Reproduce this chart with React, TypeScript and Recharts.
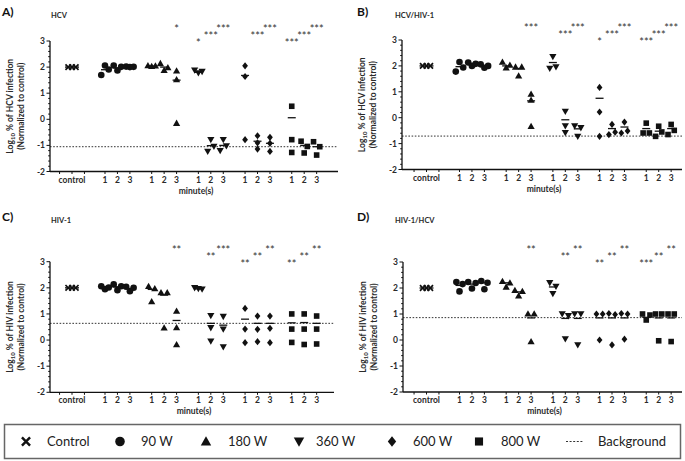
import React from 'react';
import { ScatterChart, Scatter, XAxis, YAxis, ReferenceLine } from 'recharts';

// log10 % infection, normalized to control; [power][minute][replicate]
const POWERS = ['90 W', '180 W', '360 W', '600 W', '800 W'];
const MINUTES = ['1', '2', '3'];
const CONTROL = [2, 2, 2];

const A_POINTS = [
  [[1.70, 2.06, 1.91], [2.06, 1.87, 2.01], [2.02, 2.0, 2.01]],
  [[2.06, 2.03, 2.05], [2.14, 1.88, 1.98], [1.86, -0.15, 1.52]],
  [[1.88, 1.78, 1.83], [-1.23, -0.78, -1.04], [-1.2, -0.78, -1.02]],
  [[2.05, -0.78, 1.64], [-1.14, -0.63, -0.9], [-0.69, -1.23, -0.92]],
  [[0.5, -0.78, -1.27], [-1.29, -0.84, -1.04], [-0.86, -1.37, -1.05]],
];
const A_MEANS = [[1.9, 1.97, 2.0], [2.04, 2.0, 1.5], [1.8, -1.01, -1.0], [1.68, -0.84, -0.92], [0.06, -1.0, -1.05]];
const A_STARS = [['', '', ''], ['', '', '*'], ['*', '***', '***'], ['', '***', '***'], ['***', '***', '***']];
const A_BG = -1.05;

const B_POINTS = [
  [[1.78, 2.15, 1.94], [2.13, 2.0, 2.08], [2.06, 1.93, 2.0]],
  [[2.15, 1.93, 2.03], [1.96, 1.62, 1.96], [0.91, -0.33, 0.68]],
  [[1.9, 2.36, 1.96], [-0.58, 0.24, -0.32], [-0.32, -0.72, -0.39]],
  [[1.17, 0.22, -0.72], [-0.65, -0.26, -0.56], [-0.59, -0.17, -0.51]],
  [[-0.59, -0.21, -0.59], [-0.72, -0.33, -0.55], [-0.65, -0.26, -0.49]],
];
const B_MEANS = [[1.97, 2.05, 2.0], [2.0, 1.9, 0.65], [2.13, -0.08, -0.43], [0.75, -0.42, -0.36], [-0.42, -0.52, -0.42]];
const B_STARS = [['', '', ''], ['', '', '***'], ['', '***', '***'], ['*', '***', '***'], ['***', '***', '***']];
const B_BG = -0.71;

const C_POINTS = [
  [[2.06, 1.95, 2.01], [2.13, 1.91, 2.06], [2.04, 1.87, 2.0]],
  [[2.06, 1.47, 1.97], [1.82, 0.47, 1.82], [1.11, 0.48, -0.17]],
  [[2.0, 1.97, 1.95], [0.93, 0.47, -0.04], [0.9, 0.42, -0.26]],
  [[1.21, 0.42, -0.1], [0.92, 0.41, -0.06], [0.92, 0.45, -0.1]],
  [[1.0, 0.42, -0.09], [1.0, 0.42, -0.17], [0.92, 0.42, -0.15]],
];
const C_MEANS = [[2.0, 2.04, 1.98], [1.94, 1.72, 0.75], [1.96, 0.64, 0.57], [0.8, 0.64, 0.64], [0.66, 0.67, 0.64]];
const C_STARS = [['', '', ''], ['', '', '**'], ['', '**', '***'], ['**', '**', '**'], ['**', '**', '**']];
const C_BG = 0.64;

const D_POINTS = [
  [[2.23, 1.87, 2.15], [2.23, 1.98, 2.19], [1.95, 2.27, 2.2]],
  [[2.26, 2.04, 2.2], [1.91, 1.7, 1.87], [1.01, -0.06, 1.01]],
  [[1.78, 2.2, 2.06], [1.0, 0.04, 0.93], [1.0, -0.19, 1.0]],
  [[1.0, 0.0, 1.0], [1.02, -0.19, 0.98], [1.02, 0.03, 1.0]],
  [[1.0, 0.77, 0.96], [1.0, -0.03, 1.0], [1.0, -0.06, 1.0]],
];
const D_MEANS = [[2.1, 2.15, 2.2], [2.2, 1.85, 0.85], [2.04, 0.83, 0.83], [0.85, 0.85, 0.85], [0.87, 0.85, 0.85]];
const D_STARS = [['', '', ''], ['', '', '**'], ['', '**', '**'], ['**', '**', '**'], ['***', '**', '**']];
const D_BG = 0.86;

const W = 685;
const H = 461;
const Y_MAX = 3.8;
const U = 12.45; // px per slot
const GAP0 = 2.65;
const GROUP = 3.75;
const FONT = 'Lato, "Open Sans", sans-serif';
const INK = '#111';
const TXT = '#2a2a2a';

type Kind = 'x' | 'circle' | 'triangle' | 'down' | 'diamond' | 'square';
const KINDS: Kind[] = ['circle', 'triangle', 'down', 'diamond', 'square'];

function Marker({ kind, cx, cy, s = 1 }: { kind: Kind; cx: number; cy: number; s?: number }) {
  if (cx == null || cy == null) return null;
  switch (kind) {
    case 'x': {
      const d = 2.8 * s;
      return <path d={`M${cx - d},${cy - d}L${cx + d},${cy + d}M${cx - d},${cy + d}L${cx + d},${cy - d}`} stroke={INK} strokeWidth={1.7 * s} />;
    }
    case 'circle':
      return <circle cx={cx} cy={cy} r={3.3 * s} fill={INK} />;
    case 'triangle': {
      const h = 3.6 * s;
      return <path d={`M${cx},${cy - h}L${cx + h},${cy + h * 0.75}L${cx - h},${cy + h * 0.75}Z`} fill={INK} />;
    }
    case 'down': {
      const h = 3.6 * s;
      return <path d={`M${cx},${cy + h}L${cx + h},${cy - h * 0.75}L${cx - h},${cy - h * 0.75}Z`} fill={INK} />;
    }
    case 'diamond': {
      const h = 3.6 * s;
      return <path d={`M${cx},${cy - h}L${cx + h * 0.8},${cy}L${cx},${cy + h}L${cx - h * 0.8},${cy}Z`} fill={INK} />;
    }
    default: {
      const h = 2.8 * s;
      return <rect x={cx - h} y={cy - h} width={2 * h} height={2 * h} fill={INK} />;
    }
  }
}

// horizontal offsets for replicates that would overlap (like a scatter dot plot)
function spread(vals: number[]): number[] {
  const order = vals.map((_, i) => i).sort((a, b) => vals[a] - vals[b]);
  const offs = vals.map(() => 0);
  const clusters: number[][] = [];
  order.forEach((i) => {
    const last = clusters[clusters.length - 1];
    if (last && vals[i] - vals[last[last.length - 1]] < 0.22) last.push(i);
    else clusters.push([i]);
  });
  clusters.forEach((c) => {
    if (c.length < 2) return;
    const idx = [...c].sort((a, b) => a - b);
    const step = idx.length === 2 ? 0.5 : 0.3;
    idx.forEach((i, k) => (offs[i] = (k - (idx.length - 1) / 2) * step));
  });
  return offs;
}

const pos = (g: number, m: number) => GAP0 + g * GROUP + m;

type Cfg = {
  points: number[][][];
  means: number[][];
  stars: string[][];
  bg: number;
  axisX: number;
  axisRight: number;
  ctrlX: number;
  y3: number;
  yM2: number;
};

const Y_TICKS = Array.from({ length: 26 }, (_, i) => Math.round((-2 + i * 0.2) * 10) / 10);

function Panel({ cfg }: { cfg: Cfg }) {
  const unit = (cfg.yM2 - cfg.y3) / 5;
  const top = cfg.yM2 - (Y_MAX + 2) * unit;
  const margin = { top, left: cfg.axisX - 1, right: W - cfg.axisRight, bottom: H - cfg.yM2 - 1 };
  const xDomain = [(cfg.axisX - cfg.ctrlX) / U, (cfg.axisRight - cfg.ctrlX) / U];

  const ctrlOff = spread(CONTROL);
  const ctrlData = CONTROL.map((v, i) => ({ x: ctrlOff[i], y: v }));
  const groups = cfg.points.map((byMin, g) =>
    byMin.flatMap((vals, m) => {
      const off = spread(vals);
      return vals.map((v, r) => ({ x: pos(g, m) + off[r], y: v }));
    })
  );
  const means = [
    { x: 0, y: 2, w: 14 },
    ...cfg.means.flatMap((row, g) => row.map((v, m) => ({ x: pos(g, m), y: v, w: 8 }))),
  ];
  const stars = cfg.stars.flatMap((row, g) =>
    row.map((label, m) => ({ x: pos(g, m), y: 3 + m * 0.27, label })).filter((d) => d.label)
  );

  const labels: Record<string, string> = { '0.00': 'control' };
  POWERS.forEach((_, g) => MINUTES.forEach((mn, m) => (labels[pos(g, m).toFixed(2)] = mn)));
  const xTicks = [-1, 0, 1, ...POWERS.flatMap((_, g) => MINUTES.map((__, m) => pos(g, m)))];

  const XTick = (p: any) => {
    const v = Number(p.payload.value);
    const lab = labels[v.toFixed(2)];
    return (
      <g>
        <line x1={p.x} x2={p.x} y1={p.y} y2={p.y + 2.5} stroke={INK} strokeWidth={1} />
        {lab && (
          <text x={p.x} y={p.y + 11} textAnchor="middle" fontFamily={FONT} fontWeight={700} fontSize={8.5} fill={TXT}>
            {lab}
          </text>
        )}
      </g>
    );
  };
  const YTick = (p: any) => {
    const v = Number(p.payload.value);
    const major = Math.abs(v - Math.round(v)) < 1e-6;
    return (
      <g>
        <line x1={p.x - (major ? 3.5 : 1.8)} x2={p.x} y1={p.y} y2={p.y} stroke={INK} strokeWidth={1} />
        {major && (
          <text x={p.x - 5} y={p.y + 3} textAnchor="end" fontFamily={FONT} fontWeight={700} fontSize={8.5} fill={TXT}>
            {v}
          </text>
        )}
      </g>
    );
  };

  return (
    <div style={{ position: 'absolute', left: 0, top: 0 }}>
      <ScatterChart width={W} height={H} margin={margin}>
        <XAxis
          type="number"
          dataKey="x"
          domain={xDomain}
          ticks={xTicks}
          interval={0}
          tick={XTick}
          tickLine={false}
          tickSize={0}
          tickMargin={0}
          height={1}
          axisLine={{ stroke: INK, strokeWidth: 1.3 }}
        />
        <YAxis
          type="number"
          dataKey="y"
          domain={[-2, Y_MAX]}
          ticks={Y_TICKS}
          interval={0}
          tick={YTick}
          tickLine={false}
          tickSize={0}
          tickMargin={0}
          width={1}
          axisLine={false}
        />
        <ReferenceLine y={cfg.bg} stroke="#333" strokeDasharray="1.6 1.6" strokeWidth={1} />
        <ReferenceLine
          segment={[{ x: xDomain[0], y: -2 }, { x: xDomain[0], y: 3 }]}
          stroke={INK}
          strokeWidth={1.3}
        />
        <Scatter
          data={ctrlData}
          isAnimationActive={false}
          shape={(p: any) => <Marker kind="x" cx={p.cx} cy={p.cy} />}
        />
        {groups.map((d, g) => (
          <Scatter
            key={g}
            data={d}
            isAnimationActive={false}
            shape={(p: any) => <Marker kind={KINDS[g]} cx={p.cx} cy={p.cy} />}
          />
        ))}
        <Scatter
          data={means}
          isAnimationActive={false}
          shape={(p: any) => {
            const w = (p.payload && p.payload.w) || 8;
            return <line x1={p.cx - w / 2} x2={p.cx + w / 2} y1={p.cy} y2={p.cy} stroke={INK} strokeWidth={1.3} />;
          }}
        />
        <Scatter
          data={stars}
          isAnimationActive={false}
          shape={(p: any) => (
            <text x={p.cx} y={p.cy + 6} textAnchor="middle" fontFamily={FONT} fontSize={11} fill="#333">
              {p.payload ? p.payload.label : ''}
            </text>
          )}
        />
      </ScatterChart>
    </div>
  );
}

const PANELS: { cfg: Cfg; letter: string; title: string; virus: string; lx: number; tx: number; ty: number }[] = [
  { letter: 'A)', title: 'HCV', virus: 'HCV', lx: 2, tx: 51, ty: 0,
    cfg: { points: A_POINTS, means: A_MEANS, stars: A_STARS, bg: A_BG, axisX: 50, axisRight: 338, ctrlX: 72, y3: 41, yM2: 171.5 } },
  { letter: 'B)', title: 'HCV/HIV-1', virus: 'HCV', lx: 357, tx: 395, ty: 0,
    cfg: { points: B_POINTS, means: B_MEANS, stars: B_STARS, bg: B_BG, axisX: 402, axisRight: 682, ctrlX: 426.5, y3: 40, yM2: 169.5 } },
  { letter: 'C)', title: 'HIV-1', virus: 'HIV', lx: 2, tx: 51, ty: 205,
    cfg: { points: C_POINTS, means: C_MEANS, stars: C_STARS, bg: C_BG, axisX: 50, axisRight: 334, ctrlX: 72, y3: 261.7, yM2: 392.3 } },
  { letter: 'D)', title: 'HIV-1/HCV', virus: 'HIV', lx: 357, tx: 395, ty: 205,
    cfg: { points: D_POINTS, means: D_MEANS, stars: D_STARS, bg: D_BG, axisX: 403, axisRight: 682, ctrlX: 426.5, y3: 262, yM2: 392 } },
];

const LEGEND: { kind: Kind | 'line'; label: string; mx: number; tx: number }[] = [
  { kind: 'x', label: 'Control', mx: 26, tx: 47 },
  { kind: 'circle', label: '90 W', mx: 120, tx: 141 },
  { kind: 'triangle', label: '180 W', mx: 206, tx: 228 },
  { kind: 'down', label: '360 W', mx: 299, tx: 316 },
  { kind: 'diamond', label: '600 W', mx: 392, tx: 413 },
  { kind: 'square', label: '800 W', mx: 479, tx: 501 },
  { kind: 'line', label: 'Background', mx: 574, tx: 598 },
];

export default function App() {
  return (
    <div style={{ position: 'absolute', left: 0, top: 0, width: W, height: H, background: '#fff', overflow: 'hidden' }}>
      {PANELS.map((p, i) => (
        <Panel key={i} cfg={p.cfg} />
      ))}
      <svg width={W} height={H} style={{ position: 'absolute', left: 0, top: 0, pointerEvents: 'none' }}>
        {PANELS.map((p, i) => {
          const c = p.cfg;
          const midY = (c.y3 + c.yM2) / 2;
          const l1 = c.axisX - 37;
          const midX = (c.axisX + c.axisRight) / 2 + 2;
          return (
            <g key={i} fontFamily={FONT} fill={TXT}>
              <text x={p.lx} y={p.ty + 16} fontSize={12} fontWeight={700} fill="#111">{p.letter}</text>
              <text x={p.tx} y={p.ty + 18} fontSize={7.5} fontWeight={700}>{p.title}</text>
              <text transform={`translate(${l1},${midY}) rotate(-90)`} textAnchor="middle" fontSize={8.5} fontWeight={700}>
                Log<tspan fontSize={6} dy={2}>10</tspan>
                <tspan dy={-2}>{` % of ${p.virus} infection`}</tspan>
              </text>
              <text transform={`translate(${l1 + 10.5},${midY}) rotate(-90)`} textAnchor="middle" fontSize={8.5} fontWeight={700}>
                (Normalized to control)
              </text>
              <text x={midX} y={c.yM2 + 22} textAnchor="middle" fontSize={8.5} fontWeight={700}>minute(s)</text>
            </g>
          );
        })}
        <rect x={4.5} y={424.5} width={676} height={34} fill="none" stroke="#666" strokeWidth={1.5} />
        {LEGEND.map((it) => (
          <g key={it.label}>
            {it.kind === 'line' ? (
              <line x1={it.mx - 8} x2={it.mx + 9} y1={441.5} y2={441.5} stroke="#333" strokeWidth={1} strokeDasharray="2 1.6" />
            ) : (
              <Marker kind={it.kind} cx={it.mx} cy={441.5} s={1.45} />
            )}
            <text x={it.tx} y={446} fontFamily={FONT} fontSize={13} fill="#222">{it.label}</text>
          </g>
        ))}
      </svg>
    </div>
  );
}
